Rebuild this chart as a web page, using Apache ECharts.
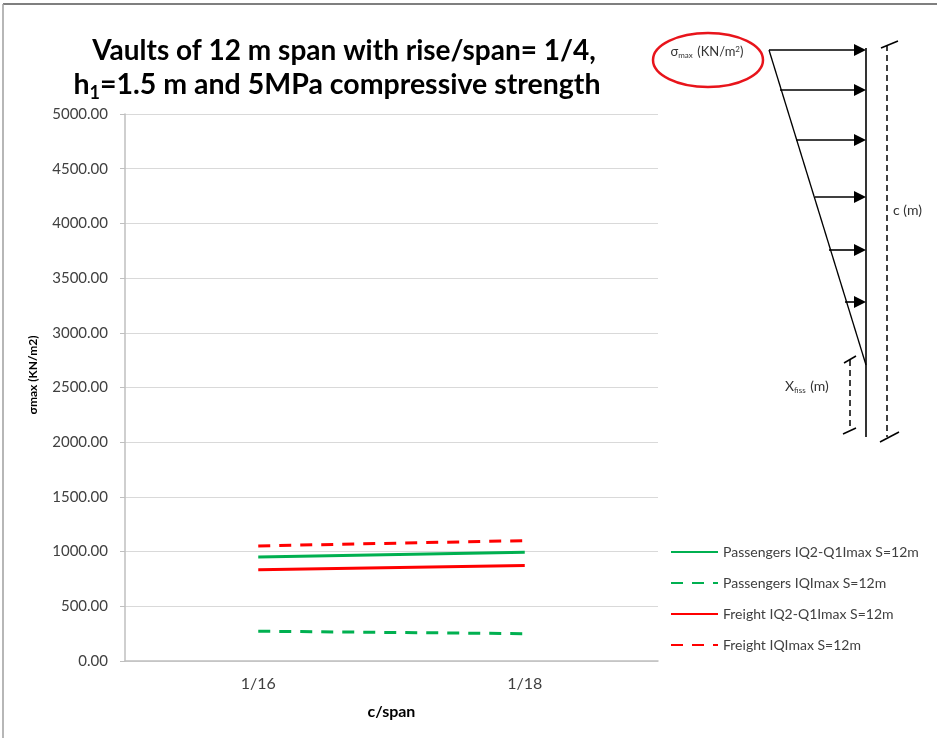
<!DOCTYPE html>
<html>
<head>
<meta charset="utf-8">
<script src="https://cdn.jsdelivr.net/npm/echarts@6/dist/echarts.min.js"></script>
<style>html,body{margin:0;padding:0;background:#fff;}#c{width:937px;height:738px;}</style>
</head>
<body>
<div id="c"></div>
<script>
const categories = ['1/16', '1/18'];
const passengersQ2Q1 = [950, 995];
const passengersIQ = [272, 250];
const freightQ2Q1 = [835, 872];
const freightIQ = [1052, 1100];
const yTicks = [0, 500, 1000, 1500, 2000, 2500, 3000, 3500, 4000, 4500, 5000];
const seriesNames = ['Passengers IQ2-Q1Imax S=12m', 'Passengers IQImax S=12m', 'Freight IQ2-Q1Imax S=12m', 'Freight IQImax S=12m'];

const FONT = 'Lato';
const GREEN = '#00b050';
const RED = '#ff0000';
const dash = [12, 9];

function arrow(x1, y, x2) {
  return [
    { type: 'line', shape: { x1: x1, y1: y, x2: x2 - 8, y2: y }, style: { stroke: '#000', lineWidth: 1.6 } },
    { type: 'polygon', shape: { points: [[x2, y], [x2 - 12, y - 6], [x2 - 12, y + 6]] }, style: { fill: '#000' } }
  ];
}

const graphics = [];
// frame
graphics.push({ type: 'line', shape: { x1: 3, y1: 4, x2: 937, y2: 4 }, style: { stroke: '#7f7f7f', lineWidth: 2 } });
graphics.push({ type: 'line', shape: { x1: 3, y1: 4, x2: 3, y2: 738 }, style: { stroke: '#9f9f9f', lineWidth: 1.5 } });
// title
graphics.push({ type: 'text', x: 344, y: 51, style: { text: 'Vaults of 12 m span with rise/span= 1/4,', font: 'bold 28px ' + FONT, fill: '#000', align: 'center', verticalAlign: 'middle' } });
graphics.push({ type: 'text', x: 337, y: 85, style: {
  text: '{a|h}{s|1}{a|=1.5 m and 5MPa compressive strength}', align: 'center', verticalAlign: 'middle',
  rich: { a: { font: 'bold 28.5px ' + FONT, fill: '#000' }, s: { font: 'bold 18px ' + FONT, fill: '#000', padding: [16, 0, 0, 0] } }
} });
// y axis name
graphics.push({ type: 'text', x: 33, y: 375, rotation: Math.PI / 2, style: { text: 'σmax (KN/m2)', font: 'bold 12px ' + FONT, fill: '#000', align: 'center', verticalAlign: 'middle' } });
// diagram
graphics.push({ type: 'ellipse', shape: { cx: 708, cy: 60, rx: 55, ry: 27 }, style: { fill: 'none', stroke: '#e8141b', lineWidth: 2.5 } });
graphics.push({ type: 'text', x: 707, y: 52, style: {
  text: '{a|σ}{s|max}{a| (KN/m}{p|2}{a|)}', align: 'center', verticalAlign: 'middle',
  rich: { a: { font: '13px ' + FONT, fill: '#333' }, s: { font: '8px ' + FONT, fill: '#333', padding: [7, 1, 0, 0] }, p: { font: '8px ' + FONT, fill: '#333', padding: [0, 0, 6, 0] } }
} });
graphics.push({ type: 'line', shape: { x1: 866, y1: 48, x2: 866, y2: 437 }, style: { stroke: '#000', lineWidth: 1.6 } });
graphics.push({ type: 'line', shape: { x1: 769, y1: 50, x2: 866, y2: 365 }, style: { stroke: '#000', lineWidth: 1.3 } });
[[769, 50], [780, 90], [796, 140], [815, 197], [829, 250], [845, 302]].forEach(function (p) {
  arrow(p[0], p[1], 866).forEach(function (g) { graphics.push(g); });
});
graphics.push({ type: 'line', shape: { x1: 887, y1: 45, x2: 887, y2: 437 }, style: { stroke: '#000', lineWidth: 1.5, lineDash: [6, 4] } });
graphics.push({ type: 'line', shape: { x1: 881, y1: 48, x2: 898, y2: 41 }, style: { stroke: '#000', lineWidth: 1.5 } });
graphics.push({ type: 'line', shape: { x1: 880, y1: 442, x2: 899, y2: 432 }, style: { stroke: '#000', lineWidth: 1.5 } });
graphics.push({ type: 'text', x: 893, y: 210, style: { text: 'c (m)', font: '14px ' + FONT, fill: '#333', verticalAlign: 'middle' } });
graphics.push({ type: 'line', shape: { x1: 850, y1: 360, x2: 850, y2: 430 }, style: { stroke: '#000', lineWidth: 1.5, lineDash: [6, 4] } });
graphics.push({ type: 'line', shape: { x1: 844, y1: 363, x2: 856, y2: 356 }, style: { stroke: '#000', lineWidth: 1.5 } });
graphics.push({ type: 'line', shape: { x1: 843, y1: 434, x2: 856, y2: 428 }, style: { stroke: '#000', lineWidth: 1.5 } });
graphics.push({ type: 'text', x: 785, y: 386, style: {
  text: '{a|X}{s|fiss}{a| (m)}', verticalAlign: 'middle',
  rich: { a: { font: '14px ' + FONT, fill: '#333' }, s: { font: '8px ' + FONT, fill: '#333', padding: [8, 1, 0, 0] } }
} });

function mk(name, data, color, dashed) {
  return {
    name: name, type: 'line', data: data, symbol: 'none', silent: true,
    lineStyle: { color: color, width: 3, type: dashed ? dash : 'solid' },
    itemStyle: { color: color }
  };
}

const chart = echarts.init(document.getElementById('c'));
chart.setOption({
  animation: false,
  backgroundColor: '#fff',
  textStyle: { fontFamily: FONT },
  grid: { left: 125, right: 279, top: 114, bottom: 77 },
  legend: {
    orient: 'vertical', left: 665, top: 540, itemWidth: 47, itemHeight: 14, itemGap: 17,
    data: seriesNames,
    itemStyle: { opacity: 0 },
    textStyle: { fontFamily: FONT, fontSize: 14, color: '#404040' }
  },
  xAxis: {
    type: 'category', data: categories, boundaryGap: true,
    axisLine: { lineStyle: { color: '#bfbfbf', width: 1.5 } },
    axisTick: { show: false },
    axisLabel: { fontSize: 16, color: '#404040', margin: 15, fontFamily: FONT },
    name: 'c/span', nameLocation: 'middle', nameGap: 43,
    nameTextStyle: { fontWeight: 'bold', fontSize: 16, color: '#000', fontFamily: FONT }
  },
  yAxis: {
    type: 'value', min: 0, max: 5000, interval: 500,
    axisLine: { show: true, lineStyle: { color: '#bfbfbf', width: 1.5 } },
    axisTick: { show: true, length: 5, lineStyle: { color: '#bfbfbf' } },
    splitLine: { lineStyle: { color: '#d9d9d9', width: 1.2 } },
    axisLabel: { fontSize: 15, color: '#404040', margin: 17, fontFamily: FONT, formatter: function (v) { return v.toFixed(2); } }
  },
  series: [
    mk(seriesNames[0], passengersQ2Q1, GREEN, false),
    mk(seriesNames[1], passengersIQ, GREEN, true),
    mk(seriesNames[2], freightQ2Q1, RED, false),
    mk(seriesNames[3], freightIQ, RED, true)
  ],
  graphic: graphics
});
</script>
</body>
</html>
